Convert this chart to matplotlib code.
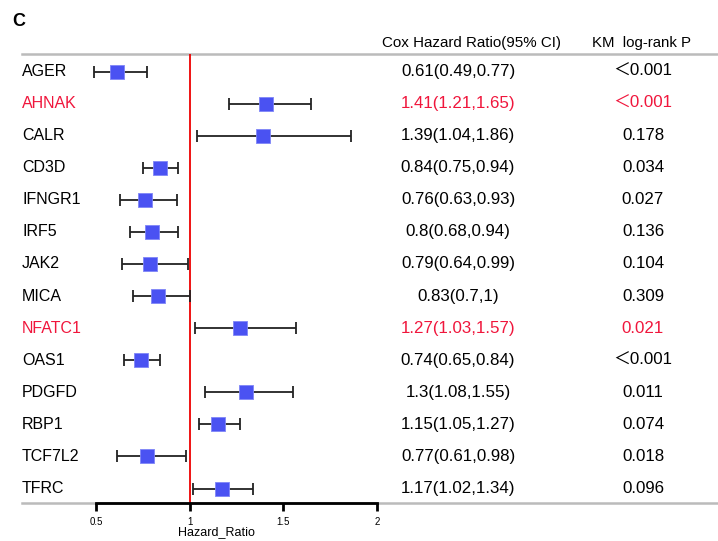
import matplotlib
matplotlib.use("Agg")
import matplotlib.pyplot as plt
from matplotlib.lines import Line2D
from matplotlib.transforms import blended_transform_factory

# data
genes = ["AGER", "AHNAK", "CALR", "CD3D", "IFNGR1", "IRF5", "JAK2", "MICA",
         "NFATC1", "OAS1", "PDGFD", "RBP1", "TCF7L2", "TFRC"]
hr = [0.61, 1.41, 1.39, 0.84, 0.76, 0.80, 0.79, 0.83, 1.27, 0.74, 1.30, 1.15, 0.77, 1.17]
lower = [0.49, 1.21, 1.04, 0.75, 0.63, 0.68, 0.64, 0.70, 1.03, 0.65, 1.08, 1.05, 0.61, 1.02]
upper = [0.77, 1.65, 1.86, 0.94, 0.93, 0.94, 0.99, 1.00, 1.57, 0.84, 1.55, 1.27, 0.98, 1.34]
hr_text = ["0.61(0.49,0.77)", "1.41(1.21,1.65)", "1.39(1.04,1.86)", "0.84(0.75,0.94)",
           "0.76(0.63,0.93)", "0.8(0.68,0.94)", "0.79(0.64,0.99)", "0.83(0.7,1)",
           "1.27(1.03,1.57)", "0.74(0.65,0.84)", "1.3(1.08,1.55)", "1.15(1.05,1.27)",
           "0.77(0.61,0.98)", "1.17(1.02,1.34)"]
p_text = ["\uff1c0.001", "\uff1c0.001", "0.178", "0.034", "0.027", "0.136", "0.104",
          "0.309", "0.021", "\uff1c0.001", "0.011", "0.074", "0.018", "0.096"]
highlight = ["AHNAK", "NFATC1"]
xticks = [0.5, 1, 1.5, 2]

W, H = 718, 541
RED = "#F0163C"
BLUE = "#4A52F2"
FONT = ["Liberation Sans", "Noto Sans CJK SC", "DejaVu Sans"]
plt.rcParams["font.family"] = FONT

fig = plt.figure(figsize=(W / 100, H / 100), dpi=100)
fig.patch.set_facecolor("white")

# axes placed in pixels: x 96..377, y 54..503 from top
top_px, bot_px = 54, 503
ax = fig.add_axes([96 / W, 1 - bot_px / H, (377 - 96) / W, (bot_px - top_px) / H])
row0, step = 71.5, 32.08
ax.set_ylim((bot_px - row0) / step, -(row0 - top_px) / step)
ax.set_xlim(0.5, 2)

ys = list(range(len(genes)))
err = [[h - l for h, l in zip(hr, lower)], [u - h for h, u in zip(hr, upper)]]
ax.errorbar(hr, ys, xerr=err, fmt="none", ecolor="#222222", elinewidth=1.3,
            capsize=4, capthick=1.3, clip_on=False, zorder=3)
ax.scatter(hr, ys, marker="s", s=100, color=BLUE, edgecolors="#7F86F7",
           linewidths=0.6, clip_on=False, zorder=4)
ax.axvline(1, color="#EE0000", lw=1.3, zorder=2)

for s in ["top", "right", "left"]:
    ax.spines[s].set_visible(False)
ax.spines["bottom"].set_linewidth(2)
ax.spines["bottom"].set_zorder(5)
ax.set_yticks([])
ax.set_xticks(xticks)
ax.set_xticklabels(["0.5", "1", "1.5", "2"], fontsize=7)
ax.tick_params(axis="x", length=6, width=2, pad=4)
ax.patch.set_alpha(0)
fig.text(216 / W, 1 - 532 / H, "Hazard_Ratio", ha="center", va="center", fontsize=9)

# grey rules
for yp in (top_px, bot_px):
    fig.add_artist(Line2D([22 / W, 1], [1 - yp / H, 1 - yp / H], color="#BBBBBB",
                          lw=1.8, zorder=0))

trans = blended_transform_factory(fig.transFigure, ax.transData)
for i, g in enumerate(genes):
    c = RED if g in highlight else "black"
    ax.text(22 / W, i, g, transform=trans, ha="left", va="center", fontsize=11.5,
            color=c, clip_on=False)
    ax.text(458 / W, i, hr_text[i], transform=trans, ha="center", va="center",
            fontsize=12.2, color=c, clip_on=False)
    ax.text(643 / W, i, p_text[i], transform=trans, ha="center", va="center",
            fontsize=12.2, color=c, clip_on=False, family=FONT)

fig.text(472 / W, 1 - 43 / H, "Cox Hazard Ratio(95% CI)", ha="center", va="center",
         fontsize=10.9)
fig.text(641 / W, 1 - 43 / H, "KM  log-rank P", ha="center", va="center", fontsize=10.8)
fig.text(12 / W, 1 - 22 / H, "C", ha="left", va="center", fontsize=13, fontweight="bold")

fig.savefig("out.png", dpi=100)
